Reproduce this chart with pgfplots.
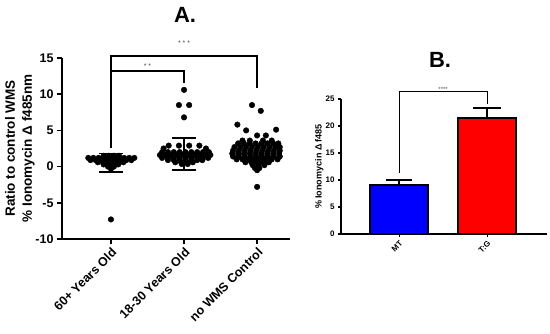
\documentclass[border=0pt]{standalone}
\usepackage{pgfplots}
\pgfplotsset{compat=1.18}
\usepackage{fontspec}
\setmainfont{Liberation Sans}
\definecolor{starg}{RGB}{80,80,80}
\begin{document}
\begin{tikzpicture}[x=1pt,y=1pt,font=\bfseries]
% ---------- Panel A ----------
\begin{axis}[
  at={(62pt,94pt)}, anchor=south west,
  scale only axis, width=228pt, height=181pt,
  xmin=-0.67, xmax=2.45, ymin=-10, ymax=15,
  axis x line*=bottom, axis y line*=left,
  axis line style={line width=1.8pt, black},
  every tick/.style={line width=1.6pt, black},
  tick align=outside, major tick length=5pt,
  ytick={-10,-5,0,5,10,15},
  xtick={0,1,2},
  xticklabels={60+ Years Old, 18-30 Years Old, no WMS Control},
  /pgf/number format/assume math mode=true,
  ticklabel style={font=\fontsize{12.5}{13}\selectfont\bfseries},
  xticklabel style={rotate=45, anchor=north east, inner sep=2pt},
  ylabel={Ratio to control WMS\\\% Ionomycin Δ f485nm},
  ylabel style={at={(axis description cs:-0.185,0.5)}, anchor=center, align=center,
    font=\fontsize{13.5}{17}\selectfont\bfseries},
  clip=false,
]
% 60+ Years Old
\addplot[only marks, mark=*, mark size=2.8pt, black] table {
x y
-0.10 1.5
-0.03 1.5
0.04 1.5
0.11 1.5
-0.31 1.2
-0.24 1.2
-0.17 1.2
-0.10 1.2
-0.03 1.2
0.04 1.2
0.11 1.2
0.18 1.2
0.25 1.2
0.32 1.2
-0.28 0.9
-0.21 0.9
-0.14 0.9
-0.07 0.9
0.00 0.9
0.07 0.9
0.14 0.9
0.21 0.9
0.28 0.9
-0.18 0.6
-0.11 0.6
-0.04 0.6
0.03 0.6
0.10 0.6
0.17 0.6
-0.10 0.3
-0.03 0.3
0.04 0.3
0.10 0.3
-0.04 0.0
0.04 0.0
0.00 -0.3
0.00 -7.3
};
% 18-30 Years Old
\addplot[only marks, mark=*, mark size=2.8pt, black] table {
x y
1.00 10.6
0.93 8.5
1.07 8.5
1.00 6.8
0.79 2.9
0.93 2.9
1.07 2.9
1.21 2.9
0.72 2.5
1.30 2.5
0.70 2.0
0.78 2.0
0.86 2.0
0.94 2.0
1.02 2.0
1.10 2.0
1.18 2.0
1.26 2.0
1.34 2.0
0.67 1.6
0.75 1.6
0.83 1.6
0.91 1.6
0.99 1.6
1.07 1.6
1.15 1.6
1.23 1.6
1.31 1.6
1.36 1.6
0.70 1.2
0.78 1.2
0.86 1.2
0.94 1.2
1.02 1.2
1.10 1.2
1.18 1.2
1.26 1.2
1.33 1.2
0.78 0.9
0.86 0.9
0.94 0.9
1.02 0.9
1.10 0.9
1.18 0.9
1.25 0.9
0.88 0.6
0.96 0.6
1.04 0.6
1.12 0.6
0.97 0.35
1.05 0.35
};
% no WMS Control
\addplot[only marks, mark=*, mark size=2.8pt, black] table {
x y
1.93 8.5
2.05 7.7
1.73 5.8
1.85 5.0
2.26 5.1
2.00 4.3
2.12 4.3
1.80 3.6
1.90 3.6
2.08 3.6
2.20 3.6
1.74 3.2
1.82 3.2
1.90 3.2
1.98 3.2
2.06 3.2
2.14 3.2
2.22 3.2
2.29 3.2
1.69 2.7
1.77 2.7
1.85 2.7
1.93 2.7
2.01 2.7
2.09 2.7
2.17 2.7
2.25 2.7
2.31 2.7
1.67 2.2
1.75 2.2
1.83 2.2
1.91 2.2
1.99 2.2
2.07 2.2
2.15 2.2
2.23 2.2
2.31 2.2
1.66 1.8
1.74 1.8
1.82 1.8
1.90 1.8
1.98 1.8
2.06 1.8
2.14 1.8
2.22 1.8
2.30 1.8
1.67 1.4
1.75 1.4
1.83 1.4
1.91 1.4
1.99 1.4
2.07 1.4
2.15 1.4
2.23 1.4
2.31 1.4
1.72 1.0
1.80 1.0
1.88 1.0
1.96 1.0
2.04 1.0
2.12 1.0
2.20 1.0
2.28 1.0
1.84 0.6
1.92 0.6
2.00 0.6
2.08 0.6
2.16 0.6
1.94 0.2
2.02 0.2
2.10 0.2
1.97 -0.2
2.03 -0.2
2.00 -0.5
2.00 -2.8
};
% mean +- SD (vertical bars and caps)
\addplot[black, line width=1.8pt] coordinates {(0,-0.8) (0,1.8)};
\addplot[black, line width=1.8pt] coordinates {(-0.16,1.8) (0.16,1.8)};
\addplot[black, line width=1.8pt] coordinates {(-0.16,-0.8) (0.16,-0.8)};
\addplot[black, line width=1.8pt] coordinates {(1,-0.5) (1,4.0)};
\addplot[black, line width=1.8pt] coordinates {(0.84,4.0) (1.16,4.0)};
\addplot[black, line width=1.8pt] coordinates {(0.84,-0.5) (1.16,-0.5)};
% significance brackets
\addplot[black, line width=2pt] coordinates {(0,2.6) (0,15.3) (2,15.3) (2,10.8)};
\addplot[black, line width=2pt] coordinates {(0,13.2) (1,13.2) (1,11.6)};
\node[starg, font=\fontsize{7}{7}\selectfont] at (axis cs:1,17.0) {* * *};
\node[starg, font=\fontsize{7}{7}\selectfont] at (axis cs:0.5,13.9) {* *};
\end{axis}
\node[font=\fontsize{22}{24}\selectfont\bfseries] at (185,318) {A.};
% ---------- Panel B ----------
\begin{axis}[
  at={(341pt,99pt)}, anchor=south west,
  scale only axis, width=206pt, height=135pt,
  xmin=-0.66, xmax=1.68, ymin=0, ymax=25,
  axis x line*=bottom, axis y line*=left,
  axis line style={line width=1.2pt, black},
  every tick/.style={line width=1.1pt, black},
  tick align=outside, major tick length=3pt,
  ytick={0,5,10,15,20,25},
  xtick={0,1}, xticklabels={MT, T:G},
  /pgf/number format/assume math mode=true,
  ticklabel style={font=\fontsize{8}{9}\selectfont\bfseries},
  xticklabel style={rotate=45, anchor=north east, inner sep=2pt},
  ylabel={\% Ionomycin Δ f485},
  ylabel style={at={(axis description cs:-0.105,0.5)}, anchor=center,
    font=\fontsize{9}{10}\selectfont\bfseries},
  clip=false,
]
\addplot[black, line width=1.4pt] coordinates {(0,9.1) (0,10.0)};
\addplot[black, line width=1.4pt] coordinates {(-0.15,10.0) (0.15,10.0)};
\addplot[black, line width=1.4pt] coordinates {(1,21.5) (1,23.3)};
\addplot[black, line width=1.4pt] coordinates {(0.84,23.3) (1.16,23.3)};
\addplot[ybar, bar width=58pt, bar shift=0pt, fill={rgb,255:red,0;green,0;blue,255}, draw=black, line width=1.5pt]
  coordinates {(0,9.1)};
\addplot[ybar, bar width=58pt, bar shift=0pt, fill={rgb,255:red,255;green,0;blue,0}, draw=black, line width=1.5pt]
  coordinates {(1,21.5)};
\addplot[black, line width=1pt] coordinates {(0,11.3) (0,26.3) (1,26.3) (1,24.1)};
\node[starg, font=\fontsize{6}{6}\selectfont, anchor=south, inner sep=0.5pt] at (axis cs:0.5,26.3) {****};
\end{axis}
\node[font=\fontsize{22}{24}\selectfont\bfseries] at (440,273) {B.};
\pgfresetboundingbox
\useasboundingbox (0,0) rectangle (550,333);
\end{tikzpicture}
\end{document}
